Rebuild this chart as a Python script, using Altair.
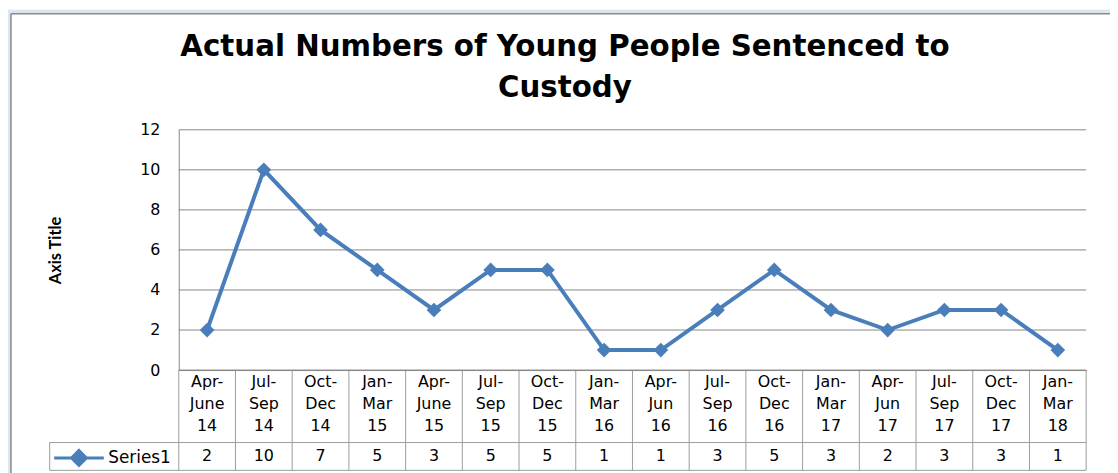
import altair as alt
import pandas as pd

# ---- data ----
title_lines = ["Actual Numbers of Young People Sentenced to", "Custody"]
period_start = ["Apr", "Jul", "Oct", "Jan", "Apr", "Jul", "Oct", "Jan",
                "Apr", "Jul", "Oct", "Jan", "Apr", "Jul", "Oct", "Jan"]
period_end = ["June", "Sep", "Dec", "Mar", "June", "Sep", "Dec", "Mar",
              "Jun", "Sep", "Dec", "Mar", "Jun", "Sep", "Dec", "Mar"]
period_year = ["14", "14", "14", "15", "15", "15", "15", "16",
               "16", "16", "16", "17", "17", "17", "17", "18"]
counts = [2, 10, 7, 5, 3, 5, 5, 1, 1, 3, 5, 3, 2, 3, 3, 1]
series_name = "Series1"
y_axis_title = "Axis Title"
y_tick_values = [0, 2, 4, 6, 8, 10, 12]

periods = [f"{a}-|{b}|{c}" for a, b, c in zip(period_start, period_end, period_year)]
df = pd.DataFrame({"period": periods, "count": counts, "series": series_name})
grid_df = pd.DataFrame({"tick": y_tick_values})
one = alt.Data(values=[{"k": 1}])

BLUE = "#4A7EBB"
GRID = "#868686"
TABLE = "#9C9C9C"
EDGE_BLUE = "#DCE6F1"
W, H = 914, 242
ROW_TOP = 315
ROW_BOTTOM = 343
CELL_LEFT = -130
FONT = "DejaVu Sans"

xscale = alt.Scale(type="band", paddingInner=0, paddingOuter=0)
xaxis = alt.Axis(
    title=None, orient="bottom", labelAngle=0, labelExpr="split(datum.label, '|')",
    labelFont=FONT, labelFontSize=16, labelLineHeight=22, labelColor="#000000",
    labelBaseline="top", labelPadding=4, labelOverlap=False, labelBound=False,
    labelFlush=False, ticks=False, grid=False, domain=True, domainColor=GRID,
    zindex=1,
)


def X(bp):
    return alt.X("period:N", sort=periods, scale=xscale, axis=xaxis, bandPosition=bp)


yscale = alt.Scale(domain=[0, 12], nice=False, zero=True)
yaxis = alt.Axis(
    values=y_tick_values, grid=False, ticks=False, domain=True, domainColor=GRID,
    labelFont=FONT, labelFontSize=16, labelColor="#000000", labelPadding=19,
    title=y_axis_title, titleFont="Lato", titleFontSize=16.5, titleFontWeight="bold",
    titleColor="#000000", titleAngle=-90, titleX=-116, titleY=121,
    titleAlign="center", titleBaseline="bottom", zindex=1,
)

color = alt.Color(
    "series:N",
    scale=alt.Scale(domain=[series_name], range=[BLUE]),
    legend=alt.Legend(
        title=None, orient="none", legendX=-127, legendY=304, padding=0, offset=0,
        symbolType="M-1,0L1,0M0,-0.3L0.3,0L0,0.3L-0.3,0Z", symbolSize=2500,
        symbolStrokeWidth=3, symbolFillColor=BLUE, symbolStrokeColor=BLUE,
        labelFont=FONT, labelFontSize=17, labelColor="#000000", labelOffset=3,
        zindex=1,
    ),
)

# light-blue margin strips and the grey chart-area border (decoration)
strip_top = alt.Chart(one).mark_rect(fill=EDGE_BLUE).encode(
    x=alt.value(-172), x2=alt.value(960), y=alt.value(-121), y2=alt.value(-117)
)
strip_left = alt.Chart(one).mark_rect(fill=EDGE_BLUE).encode(
    x=alt.value(-172), x2=alt.value(-169), y=alt.value(-121), y2=alt.value(380)
)
border_top = alt.Chart(one).mark_rule(color="#8A8A8A", strokeWidth=1.5).encode(
    x=alt.value(-169), x2=alt.value(960), y=alt.value(-117)
)
border_left = alt.Chart(one).mark_rule(color="#8A8A8A", strokeWidth=1.5).encode(
    x=alt.value(-169), y=alt.value(-117), y2=alt.value(380)
)

grid = alt.Chart(grid_df).mark_rule(color=GRID, strokeWidth=1).encode(
    y=alt.Y("tick:Q", scale=yscale, axis=yaxis), x=alt.value(0), x2=alt.value(W)
)

vlines = alt.Chart(df).mark_rule(color=TABLE, strokeWidth=1).encode(
    x=X(0), y=alt.value(H), y2=alt.value(ROW_BOTTOM)
)
vline_last = alt.Chart(df).transform_filter(
    alt.datum.period == periods[-1]
).mark_rule(color=TABLE, strokeWidth=1).encode(
    x=X(1), y=alt.value(H), y2=alt.value(ROW_BOTTOM)
)
hline_mid = alt.Chart(one).mark_rule(color=TABLE, strokeWidth=1).encode(
    x=alt.value(CELL_LEFT), x2=alt.value(W), y=alt.value(ROW_TOP)
)
hline_bot = alt.Chart(one).mark_rule(color=TABLE, strokeWidth=1).encode(
    x=alt.value(CELL_LEFT), x2=alt.value(W), y=alt.value(ROW_BOTTOM)
)
vline_cell = alt.Chart(one).mark_rule(color=TABLE, strokeWidth=1).encode(
    x=alt.value(CELL_LEFT), y=alt.value(ROW_TOP), y2=alt.value(ROW_BOTTOM)
)

line = alt.Chart(df).mark_line(strokeWidth=4).encode(
    x=X(0.5), y=alt.Y("count:Q", scale=yscale, axis=yaxis), color=color
)
points = alt.Chart(df).mark_point(shape="diamond", filled=True, size=220, opacity=1).encode(
    x=X(0.5), y=alt.Y("count:Q", scale=yscale, axis=yaxis), color=color
)
values_text = alt.Chart(df).mark_text(font=FONT, fontSize=16, color="#000000", baseline="middle").encode(
    x=X(0.5), y=alt.value(329), text="count:Q"
)

chart = alt.layer(
    strip_top, strip_left, border_top, border_left, grid, vlines, vline_last,
    hline_mid, hline_bot, vline_cell, line, points, values_text
).properties(
    width=W, height=H,
    autosize=alt.AutoSizeParams(type="none"),
    padding={"left": 172, "top": 121, "right": 24, "bottom": 102},
    background="white",
    title=alt.TitleParams(
        text=title_lines, font=FONT, fontSize=29.5, fontWeight="bold", color="#000000",
        lineHeight=41, anchor="middle", frame="group", dx=-68, dy=121, offset=27,
    ),
).configure_view(strokeWidth=0)

chart.save("out.html", embed_options={"renderer": "svg", "actions": False})
